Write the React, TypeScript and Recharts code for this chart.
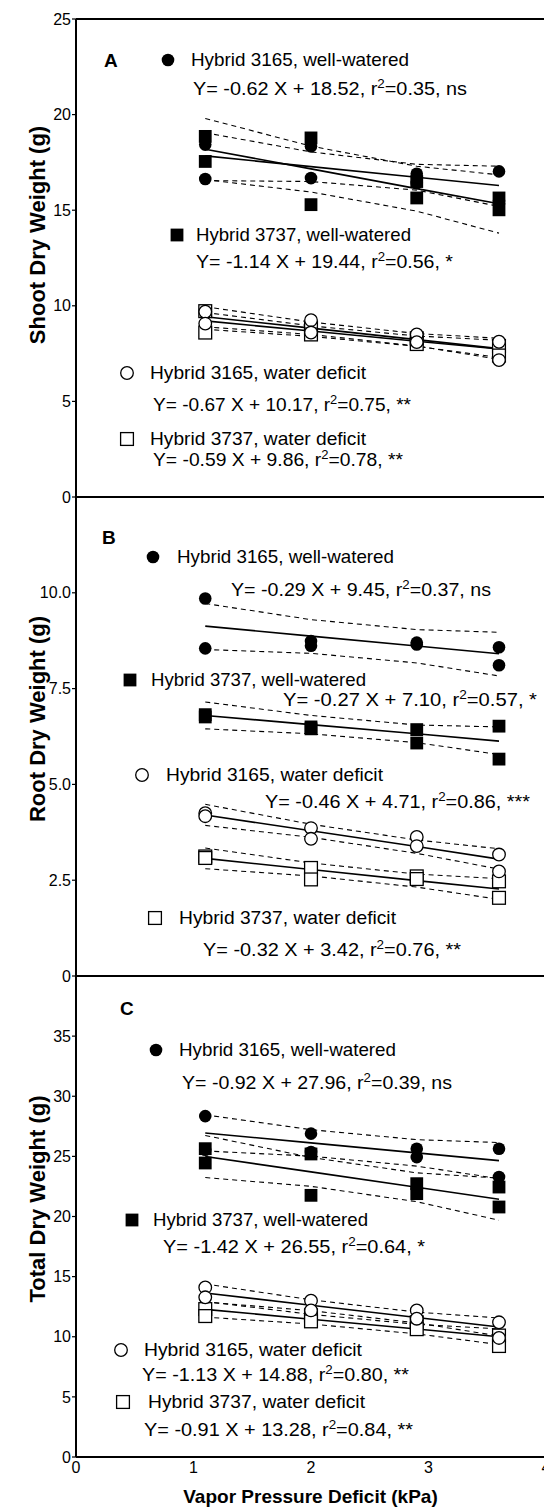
import React from "react";
import { ScatterChart, Scatter, XAxis, YAxis, Customized } from "recharts";

// vapor pressure deficit levels (kPa)
const VPD = [1.1, 2.0, 2.9, 3.6];

const LABELS = [
  "Hybrid 3165, well-watered",
  "Hybrid 3737, well-watered",
  "Hybrid 3165, water deficit",
  "Hybrid 3737, water deficit",
];

// Panel A - shoot dry weight (g), two plants per VPD level
const A_3165_WW = [[18.43, 18.34, 16.91, 17.03], [16.63, 16.68, 16.42, 15.5]];
const A_3737_WW = [[18.86, 18.78, 16.5, 15.64], [17.55, 15.29, 15.64, 15.02]];
const A_3165_WD = [[9.69, 9.25, 8.5, 8.12], [9.07, 8.6, 8.1, 7.16]];
const A_3737_WD = [[9.72, 8.85, 8.3, 7.9], [8.6, 8.5, 8.0, 7.4]];
const A_FIT = [
  [17.84, 17.28, 16.72, 16.29],
  [18.19, 17.16, 16.13, 15.34],
  [9.43, 8.83, 8.23, 7.76],
  [9.21, 8.68, 8.15, 7.74],
];
const A_CI_UP = [
  [19.05, 18.05, 17.4, 17.3],
  [19.8, 18.35, 17.3, 16.85],
  [9.95, 9.15, 8.55, 8.3],
  [9.65, 8.95, 8.42, 8.2],
];
const A_CI_LO = [
  [16.55, 16.5, 16.05, 15.2],
  [16.6, 15.95, 14.95, 13.8],
  [8.9, 8.5, 7.9, 7.2],
  [8.77, 8.4, 7.88, 7.3],
];
const A_EQ = [
  ["Y= -0.62 X + 18.52, r", "=0.35, ns"],
  ["Y= -1.14 X + 19.44, r", "=0.56, *"],
  ["Y= -0.67 X + 10.17, r", "=0.75, **"],
  ["Y= -0.59 X + 9.86, r", "=0.78, **"],
];

// Panel B - root dry weight (g)
const B_3165_WW = [[9.85, 8.74, 8.7, 8.58], [8.55, 8.62, 8.65, 8.11]];
const B_3737_WW = [[6.82, 6.5, 6.43, 6.52], [6.76, 6.45, 6.08, 5.66]];
const B_3165_WD = [[4.25, 3.86, 3.63, 3.17], [4.17, 3.58, 3.39, 2.73]];
const B_3737_WD = [[3.12, 2.82, 2.6, 2.47], [3.08, 2.52, 2.53, 2.04]];
const B_FIT = [
  [9.13, 8.87, 8.61, 8.41],
  [6.8, 6.56, 6.32, 6.13],
  [4.2, 3.79, 3.38, 3.05],
  [3.07, 2.78, 2.49, 2.27],
];
const B_CI_UP = [
  [9.72, 9.3, 9.04, 8.97],
  [7.15, 6.8, 6.55, 6.5],
  [4.48, 3.96, 3.55, 3.32],
  [3.34, 2.95, 2.66, 2.54],
];
const B_CI_LO = [
  [8.52, 8.42, 8.17, 7.83],
  [6.45, 6.32, 6.09, 5.78],
  [3.93, 3.62, 3.2, 2.79],
  [2.8, 2.61, 2.32, 2.0],
];
const B_EQ = [
  ["Y= -0.29 X + 9.45, r", "=0.37, ns"],
  ["Y= -0.27 X + 7.10, r", "=0.57, *"],
  ["Y= -0.46 X + 4.71, r", "=0.86, ***"],
  ["Y= -0.32 X + 3.42, r", "=0.76, **"],
];

// Panel C - total dry weight (g)
const C_3165_WW = [[28.35, 26.89, 25.64, 25.64], [25.55, 25.36, 24.94, 23.28]];
const C_3737_WW = [[25.64, 25.2, 22.73, 22.45], [24.45, 21.76, 21.9, 20.79]];
const C_3165_WD = [[14.1, 13.0, 12.19, 11.2], [13.28, 12.19, 11.5, 9.9]];
const C_3737_WD = [[12.3, 11.78, 11.2, 10.1], [11.72, 11.28, 10.63, 9.23]];
const C_FIT = [
  [26.95, 26.12, 25.29, 24.65],
  [24.99, 23.71, 22.43, 21.44],
  [13.64, 12.62, 11.6, 10.81],
  [12.28, 11.46, 10.64, 10.0],
];
const C_CI_UP = [
  [28.45, 27.22, 26.39, 26.15],
  [26.74, 24.91, 23.63, 23.19],
  [14.39, 13.07, 12.05, 11.56],
  [12.93, 11.86, 11.04, 10.65],
];
const C_CI_LO = [
  [25.45, 25.02, 24.19, 23.15],
  [23.24, 22.51, 21.23, 19.69],
  [12.89, 12.17, 11.15, 10.06],
  [11.63, 11.06, 10.24, 9.35],
];
const C_EQ = [
  ["Y= -0.92 X + 27.96, r", "=0.39, ns"],
  ["Y= -1.42 X + 26.55, r", "=0.64, *"],
  ["Y= -1.13 X + 14.88, r", "=0.80, **"],
  ["Y= -0.91 X + 13.28, r", "=0.84, **"],
];

const A_TICKS = [0, 5, 10, 15, 20, 25];
const B_TICKS = [0, 2.5, 5, 7.5, 10];
const C_TICKS = [0, 5, 10, 15, 20, 25, 30, 35];
const X_TICKS = [0, 1, 2, 3, 4];
const X_INNER = [1, 2, 3];

const pts = (vals: number[]) => VPD.map((x, i) => ({ x, y: vals[i] }));

type Kind = "fc" | "fs" | "oc" | "os";

function Symbol({ kind, cx, cy }: { kind: Kind; cx: number; cy: number }) {
  const filled = kind === "fc" || kind === "fs";
  const fill = filled ? "#000" : "#fff";
  const stroke = filled ? "none" : "#000";
  if (kind === "fc" || kind === "oc")
    return <circle cx={cx} cy={cy} r={6.3} fill={fill} stroke={stroke} strokeWidth={1.3} />;
  return (
    <rect x={cx - 6.4} y={cy - 6.4} width={12.8} height={12.8} fill={fill} stroke={stroke} strokeWidth={1.3} />
  );
}

const shapeOf = (kind: Kind) => (p: any) => <Symbol kind={kind} cx={p.cx} cy={p.cy} />;
const Empty = () => <g />;

const FONT = "'Liberation Sans', Arial, Helvetica, sans-serif";

interface LegendPos {
  kind: Kind;
  mx: number;
  tx: number;
  ty: number;
  tw: number;
  ex: number;
  ey: number;
  ew: number;
}

interface Layout {
  letter: [string, number, number];
  title: [string, number];
  legend: LegendPos[];
}

function Annot({ top, layout, eqs, xTitle }: { top: number; layout: Layout; eqs: string[][]; xTitle?: boolean }) {
  const [letter, lx, ly] = layout.letter;
  return (
    <g fontFamily={FONT} fill="#000">
      <text x={lx} y={ly - top + 7} fontSize={19} fontWeight="bold">
        {letter}
      </text>
      <text
        transform={`translate(45, ${layout.title[1] - top}) rotate(-90)`}
        textAnchor="middle"
        fontSize={22}
        fontWeight="bold"
      >
        {layout.title[0]}
      </text>
      {layout.legend.map((l, i) => (
        <g key={i}>
          <Symbol kind={l.kind} cx={l.mx} cy={l.ty - top} />
          <text
            x={l.tx}
            y={l.ty - top + 6.4}
            fontSize={18.5}
            textLength={l.tw}
            lengthAdjust="spacingAndGlyphs"
          >
            {LABELS[i]}
          </text>
          <text
            x={l.ex}
            y={l.ey - top + 6.4}
            fontSize={18.5}
            textLength={l.ew}
            lengthAdjust="spacingAndGlyphs"
          >
            {eqs[i][0]}
            <tspan dy={-7.5} fontSize={12.5}>
              2
            </tspan>
            <tspan dy={7.5}>{eqs[i][1]}</tspan>
          </text>
        </g>
      ))}
      {xTitle && (
        <text x={310.5} y={1503 - top} textAnchor="middle" fontSize={19} fontWeight="bold">
          Vapor Pressure Deficit (kPa)
        </text>
      )}
    </g>
  );
}

interface PanelProps {
  top: number;
  height: number;
  mTop: number;
  mBottom: number;
  xHeight: number;
  yMax: number;
  yTicks: number[];
  yFmt?: (v: number) => string;
  groups: number[][][];
  fits: number[][];
  up: number[][];
  lo: number[][];
  eqs: string[][];
  layout: Layout;
  bottomLabels?: boolean;
}

const KINDS: Kind[] = ["fc", "fs", "oc", "os"];
const DRAW_ORDER = [1, 0, 3, 2];

function Panel(p: PanelProps) {
  const axisLine = { stroke: "#000", strokeWidth: 2 };
  const tickLine = { stroke: "#000", strokeWidth: 1.2 };
  return (
    <div style={{ position: "absolute", left: 0, top: p.top }}>
      <ScatterChart
        width={560}
        height={p.height}
        margin={{ top: p.mTop, right: 14, bottom: p.mBottom, left: 0 }}
      >
        <XAxis
          xAxisId="x"
          dataKey="x"
          type="number"
          domain={[0, 4]}
          ticks={p.bottomLabels ? X_TICKS : X_INNER}
          interval={0}
          allowDataOverflow
          height={p.xHeight}
          tickLine={false}
          tickSize={0}
          tickMargin={5}
          tick={p.bottomLabels ? { fontSize: 16, fill: "#000" } : false}
          axisLine={axisLine}
        />
        <XAxis
          xAxisId="t"
          orientation="top"
          mirror
          type="number"
          domain={[0, 4]}
          ticks={X_INNER}
          interval={0}
          allowDataOverflow
          height={1}
          tick={false}
          tickSize={5}
          tickLine={tickLine}
          axisLine={axisLine}
        />
        {p.bottomLabels && (
          <XAxis
            xAxisId="bm"
            orientation="bottom"
            mirror
            type="number"
            domain={[0, 4]}
            ticks={X_INNER}
            interval={0}
            allowDataOverflow
            height={1}
            tick={false}
            tickSize={6}
            tickLine={tickLine}
            axisLine={false}
          />
        )}
        <YAxis
          yAxisId="y"
          dataKey="y"
          type="number"
          domain={[0, p.yMax]}
          ticks={p.yTicks}
          interval={0}
          allowDataOverflow
          width={76}
          tickFormatter={p.yFmt}
          tick={{ fontSize: 16, fill: "#000" }}
          tickSize={4}
          tickMargin={1}
          tickLine={tickLine}
          axisLine={axisLine}
        />
        <YAxis
          yAxisId="r"
          orientation="right"
          mirror
          type="number"
          domain={[0, p.yMax]}
          ticks={p.yTicks}
          interval={0}
          allowDataOverflow
          width={1}
          tick={false}
          tickSize={5}
          tickLine={tickLine}
          axisLine={axisLine}
        />
        {[...p.up, ...p.lo].map((vals, i) => (
          <Scatter
            key={`ci-${i}`}
            xAxisId="x"
            yAxisId="y"
            data={pts(vals)}
            fill="none"
            line={{ stroke: "#000", strokeWidth: 1.1, strokeDasharray: "5 4" }}
            shape={Empty}
            isAnimationActive={false}
          />
        ))}
        {p.fits.map((vals, i) => (
          <Scatter
            key={`fit-${i}`}
            xAxisId="x"
            yAxisId="y"
            data={pts(vals)}
            fill="none"
            line={{ stroke: "#000", strokeWidth: 1.6 }}
            shape={Empty}
            isAnimationActive={false}
          />
        ))}
        {DRAW_ORDER.map((g) =>
          p.groups[g].map((vals, r) => (
            <Scatter
              key={`pt-${g}-${r}`}
              xAxisId="x"
              yAxisId="y"
              data={pts(vals)}
              fill="#000"
              shape={shapeOf(KINDS[g])}
              isAnimationActive={false}
            />
          ))
        )}
        <Customized
          component={<Annot top={p.top} layout={p.layout} eqs={p.eqs} xTitle={p.bottomLabels} />}
        />
      </ScatterChart>
    </div>
  );
}

const LAYOUT_A: Layout = {
  letter: ["A", 104, 60],
  title: ["Shoot Dry Weight (g)", 235],
  legend: [
    { kind: "fc", mx: 168, tx: 191, ty: 60, tw: 218, ex: 193, ey: 89, ew: 274 },
    { kind: "fs", mx: 177, tx: 196, ty: 235, tw: 215, ex: 196, ey: 262, ew: 257 },
    { kind: "oc", mx: 127, tx: 150, ty: 373, tw: 216, ex: 153, ey: 405, ew: 258 },
    { kind: "os", mx: 127, tx: 150, ty: 439, tw: 216, ex: 153, ey: 460, ew: 250 },
  ],
};

const LAYOUT_B: Layout = {
  letter: ["B", 102, 537],
  title: ["Root Dry Weight (g)", 719],
  legend: [
    { kind: "fc", mx: 153, tx: 177, ty: 557, tw: 217, ex: 231, ey: 590, ew: 260 },
    { kind: "fs", mx: 130, tx: 151, ty: 680, tw: 215, ex: 283, ey: 700, ew: 254 },
    { kind: "oc", mx: 142, tx: 166, ty: 775, tw: 217, ex: 265, ey: 802, ew: 265 },
    { kind: "os", mx: 155, tx: 179, ty: 918, tw: 217, ex: 203, ey: 950, ew: 258 },
  ],
};

const LAYOUT_C: Layout = {
  letter: ["C", 120, 1008],
  title: ["Total Dry Weight (g)", 1199],
  legend: [
    { kind: "fc", mx: 156, tx: 179, ty: 1050, tw: 217, ex: 182, ey: 1083, ew: 270 },
    { kind: "fs", mx: 132, tx: 153, ty: 1220, tw: 215, ex: 163, ey: 1247, ew: 262 },
    { kind: "oc", mx: 121, tx: 144, ty: 1350, tw: 218, ex: 142, ey: 1375, ew: 267 },
    { kind: "os", mx: 123, tx: 148, ty: 1402, tw: 217, ex: 144, ey: 1430, ew: 269 },
  ],
};

const fmtB = (v: number) => (v === 0 ? "0" : v.toFixed(1));

export default function App() {
  return (
    <div
      style={{
        position: "absolute",
        left: 0,
        top: 0,
        width: 544,
        height: 1508,
        overflow: "hidden",
        background: "#fff",
        fontFamily: FONT,
      }}
    >
      <Panel
        top={0}
        height={512}
        mTop={19}
        mBottom={14}
        xHeight={1}
        yMax={25}
        yTicks={A_TICKS}
        groups={[A_3165_WW, A_3737_WW, A_3165_WD, A_3737_WD]}
        fits={A_FIT}
        up={A_CI_UP}
        lo={A_CI_LO}
        eqs={A_EQ}
        layout={LAYOUT_A}
      />
      <Panel
        top={490}
        height={500}
        mTop={7}
        mBottom={13}
        xHeight={1}
        yMax={12.5}
        yTicks={B_TICKS}
        yFmt={fmtB}
        groups={[B_3165_WW, B_3737_WW, B_3165_WD, B_3737_WD]}
        fits={B_FIT}
        up={B_CI_UP}
        lo={B_CI_LO}
        eqs={B_EQ}
        layout={LAYOUT_B}
      />
      <Panel
        top={970}
        height={538}
        mTop={6}
        mBottom={0}
        xHeight={51}
        yMax={40}
        yTicks={C_TICKS}
        groups={[C_3165_WW, C_3737_WW, C_3165_WD, C_3737_WD]}
        fits={C_FIT}
        up={C_CI_UP}
        lo={C_CI_LO}
        eqs={C_EQ}
        layout={LAYOUT_C}
        bottomLabels
      />
    </div>
  );
}
